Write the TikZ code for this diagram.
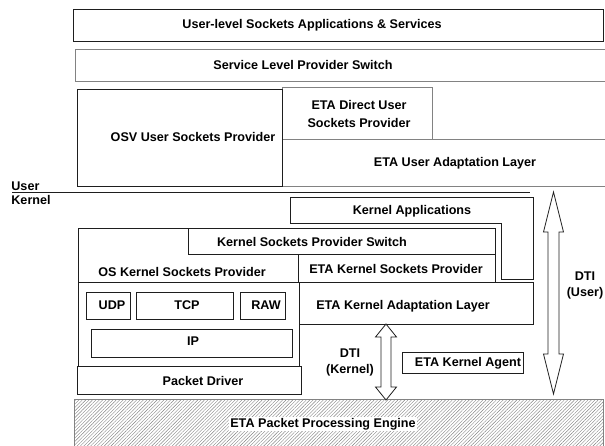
\documentclass[tikz,border=0pt]{standalone}
\usepackage{fontspec}
\setmainfont{Liberation Sans}
\usetikzlibrary{calc, patterns.meta}
\definecolor{rahmen}{RGB}{30,30,30}
\definecolor{grau}{RGB}{130,130,130}

\begin{document}
\begin{tikzpicture}[x=1pt, y=-1pt, rahmen, line width=0.8pt,
	box/.style={draw, fill=white, inner sep=0pt, anchor=north west},
	txt/.style={black, font=\bfseries\fontsize{12.6}{16}\selectfont, align=center, inner sep=1pt}]

	\useasboundingbox (0,0) rectangle (605,445);

	% user space
	\node[box, minimum width=530, minimum height=32] (apps) at (73,9) {};
	\node[txt] (apps-t) at (312,25) {User-level Sockets Applications \& Services};

	\node[box, draw=grau, minimum width=540, minimum height=32] (slps) at (75,49) {};
	\node[txt] (slps-t) at (303,65) {Service Level Provider Switch};

	\node[box, draw=grau, minimum width=330, minimum height=47] (uadapt) at (282,139) {};
	\node[txt] (uadapt-t) at (455,163) {ETA User Adaptation Layer};

	\node[box, draw=grau, minimum width=150, minimum height=52] (direct) at (282,87) {};
	\node[txt, font=\bfseries\fontsize{12.6}{18}\selectfont] (direct-t) at (359,114) {ETA Direct User\\Sockets Provider};

	\node[box, minimum width=205, minimum height=97] (osv) at (77,89) {};
	\node[txt] (osv-t) at (193,137) {OSV User Sockets Provider};

	% user / kernel
	\coordinate (grenze-l) at (12,192);
	\coordinate (grenze-r) at (530,192);
	\draw (grenze-l) -- (grenze-r);
	\node[txt, anchor=south west] (user) at (10,192) {User};
	\node[txt, anchor=north west] (kernel) at (10,194) {Kernel};

	% kernel space
	\draw[fill=white] (290,197) -- (533,197) -- (533,279) -- (501,279) -- (501,223) -- (290,223) -- cycle;
	\node[txt] (kapps) at (412,211) {Kernel Applications};

	\node[box, minimum width=220, minimum height=54] (oskern) at (78,228) {};
	\node[txt] (oskern-t) at (182,272) {OS Kernel Sockets Provider};

	\node[box, minimum width=307, minimum height=26] (kswitch) at (188,228) {};
	\node[txt] (kswitch-t) at (312,242) {Kernel Sockets Provider Switch};

	\node[box, minimum width=197, minimum height=28] (ksock) at (298,254) {};
	\node[txt] (ksock-t) at (396,269) {ETA Kernel Sockets Provider};

	\node[box, minimum width=235, minimum height=42] (kadapt) at (298,282) {};
	\node[txt] (kadapt-t) at (403,306) {ETA Kernel Adaptation Layer};

	\node[box, minimum width=221, minimum height=84] (proto) at (78,282) {};
	\node[box, minimum width=44, minimum height=27] (udp) at (86,292) {};
	\node[txt] (udp-t) at (112,305) {UDP};
	\node[box, minimum width=97, minimum height=27] (tcp) at (136,292) {};
	\node[txt] (tcp-t) at (187,305) {TCP};
	\node[box, minimum width=45, minimum height=27] (raw) at (240,292) {};
	\node[txt] (raw-t) at (266,305) {RAW};
	\node[box, minimum width=201, minimum height=28] (ip) at (91,329) {};
	\node[txt] (ip-t) at (193,341) {IP};

	\node[box, minimum width=224, minimum height=28] (pdrv) at (77,366) {};
	\node[txt] (pdrv-t) at (203,381) {Packet Driver};

	\node[box, minimum width=121, minimum height=21] (agent) at (402,352) {};
	\node[txt] (agent-t) at (468,363) {ETA Kernel Agent};

	% engine
	\node[box, draw=grau, pattern={Lines[angle=45, distance=2.4pt, line width=0.4pt]}, pattern color=grau,
		minimum width=529, minimum height=60] (engine) at (74,399) {};
	\node[txt, fill=white] (engine-t) at (323,424) {ETA Packet Processing Engine};

	% DTI arrows
	\coordinate (dtik-o) at (386,324);
	\coordinate (dtik-u) at (386,400);
	\draw[fill=white] (dtik-o) -- ($(dtik-o)+(10.5,13)$) -- ($(dtik-o)+(5,13)$) -- ($(dtik-u)+(5,-13)$)
		-- ($(dtik-u)+(10.5,-13)$) -- (dtik-u) -- ($(dtik-u)+(-10.5,-13)$) -- ($(dtik-u)+(-5,-13)$)
		-- ($(dtik-o)+(-5,13)$) -- ($(dtik-o)+(-10.5,13)$) -- cycle;
	\node[txt] (dtik-t) at (350,362) {DTI\\(Kernel)};

	\coordinate (dtiu-o) at (553.5,192);
	\coordinate (dtiu-u) at (553.5,394);
	\draw[fill=white] (dtiu-o) -- ($(dtiu-o)+(10,40)$) -- ($(dtiu-o)+(5.5,40)$) -- ($(dtiu-u)+(5.5,-40)$)
		-- ($(dtiu-u)+(10,-40)$) -- (dtiu-u) -- ($(dtiu-u)+(-10,-40)$) -- ($(dtiu-u)+(-5.5,-40)$)
		-- ($(dtiu-o)+(-5.5,40)$) -- ($(dtiu-o)+(-10,40)$) -- cycle;
	\node[txt] (dtiu-t) at (585,285) {DTI\\(User)};

\end{tikzpicture}
\end{document}
